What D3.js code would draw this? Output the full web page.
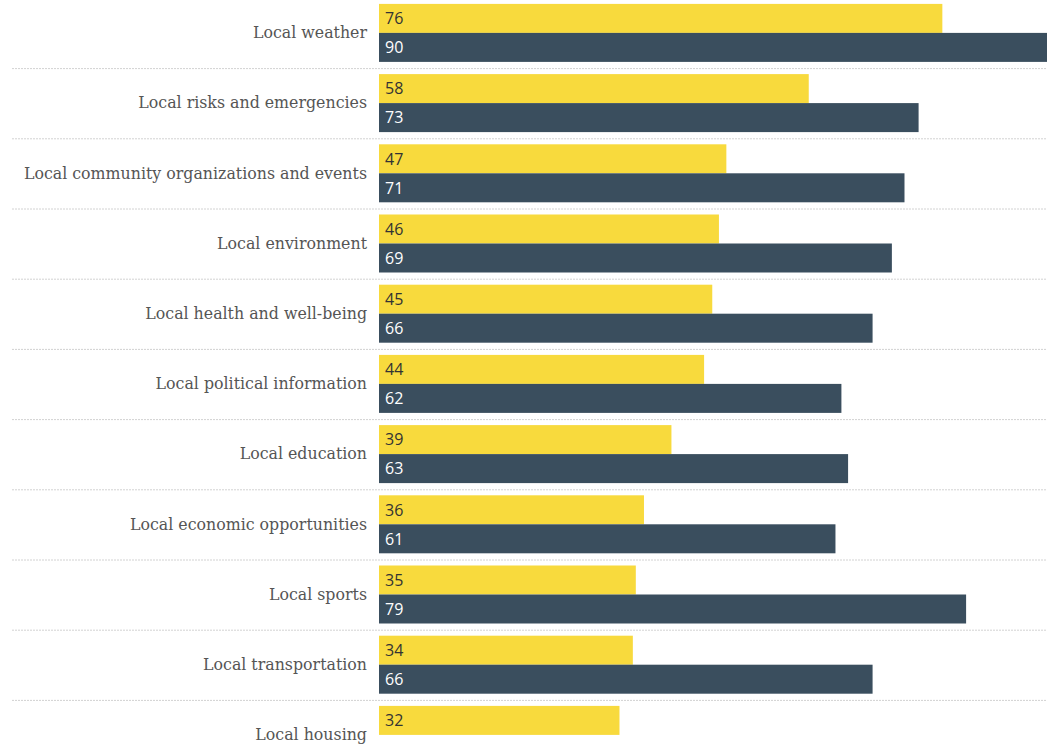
<!DOCTYPE html>
<html><head><meta charset="utf-8">
<script src="https://cdn.jsdelivr.net/npm/d3@7"></script>
<style>body{margin:0;background:#fff;overflow:hidden}</style>
</head><body>
<script>
const categories = ["Local weather","Local risks and emergencies","Local community organizations and events","Local environment","Local health and well-being","Local political information","Local education","Local economic opportunities","Local sports","Local transportation","Local housing"];
const seriesA = [75.9,57.9,46.8,45.8,44.9,43.8,39.4,35.7,34.6,34.2,32.4];
const seriesB = [90,72.7,70.8,69.1,66.5,62.3,63.2,61.5,79.1,66.5,null];
const labelsA = [76,58,47,46,45,44,39,36,35,34,32];
const labelsB = [90,73,71,69,66,62,63,61,79,66,null];
const colorA = "#f8da3d", colorB = "#3a4e5e";

const W = 1051, H = 747;
const svg = d3.select("body").append("svg").attr("width", W).attr("height", H);
const x = d3.scaleLinear().domain([0, 90]).range([379, 1047]);
const y = d3.scaleBand().domain(categories).range([-2.1, 70.2 * 11 - 2.1]).paddingInner(0).paddingOuter(0);
const barH = 29;

const g = svg.append("g");
const rows = g.selectAll("g.row").data(categories).join("g").attr("class","row")
  .attr("transform", d => `translate(0,${y(d)})`);

// separators
rows.filter((d,i) => i > 0).append("line")
  .attr("x1", 12).attr("x2", 1047).attr("y1", 0.5).attr("y2", 0.5)
  .attr("stroke", "#d2d2d2").attr("stroke-width", 1).attr("stroke-dasharray", "2,1");

rows.append("rect").attr("x", x(0)).attr("y", 6)
  .attr("width", (d,i) => x(seriesA[i]) - x(0)).attr("height", barH).attr("fill", colorA);
rows.filter((d,i) => seriesB[i] != null).append("rect").attr("x", x(0)).attr("y", 6 + barH)
  .attr("width", (d) => x(seriesB[categories.indexOf(d)]) - x(0)).attr("height", barH).attr("fill", colorB);

rows.append("text").attr("x", 385).attr("y", 6 + barH/2).attr("dy", "0.36em")
  .attr("font-family", "'Open Sans', sans-serif").attr("font-size", 16).attr("fill", "#333")
  .text((d,i) => labelsA[i]);
rows.filter((d,i) => seriesB[i] != null).append("text").attr("x", 385).attr("y", 6 + barH*1.5).attr("dy", "0.36em")
  .attr("font-family", "'Open Sans', sans-serif").attr("font-size", 16).attr("fill", "#fff")
  .text(d => labelsB[categories.indexOf(d)]);

rows.append("text").attr("x", 367).attr("y", 6 + barH).attr("dy", "0.33em")
  .attr("text-anchor", "end")
  .attr("font-family", "'DejaVu Serif', serif").attr("font-size", 15.8).attr("fill", "#555")
  .text(d => d);
</script>
</body></html>
